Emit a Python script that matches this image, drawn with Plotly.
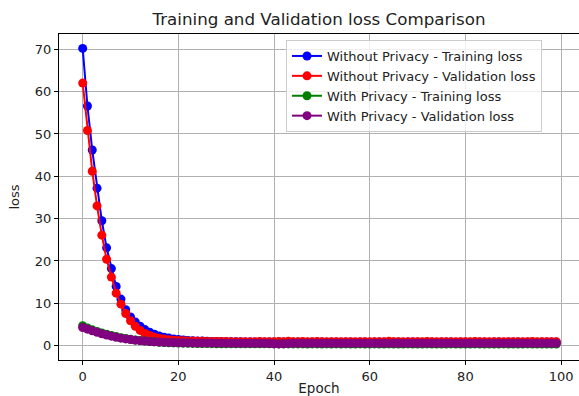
import plotly.graph_objects as go

epochs = list(range(100))

# Without privacy - training loss
wo_train = [
    70.2, 56.6, 46.2, 37.2, 29.5, 23.1, 18.2, 14.0, 11.0, 8.5,
    6.8, 5.6, 4.6, 3.8, 3.2, 2.7, 2.3, 2.0, 1.8, 1.6,
    1.45, 1.35, 1.25, 1.18, 1.12, 1.08, 1.04, 1.01, 0.98, 0.96,
    0.94, 0.92, 0.91, 0.90, 0.89, 0.88, 0.87, 0.87, 0.86, 0.86,
    0.85, 0.86, 0.85, 0.84, 0.86, 0.85, 0.85, 0.84, 0.85, 0.86,
    0.85, 0.84, 0.85, 0.85, 0.84, 0.86, 0.85, 0.84, 0.85, 0.85,
    0.84, 0.85, 0.86, 0.85, 0.84, 0.85, 0.85, 0.84, 0.85, 0.86,
    0.85, 0.84, 0.85, 0.85, 0.84, 0.85, 0.86, 0.85, 0.84, 0.85,
    0.85, 0.84, 0.85, 0.86, 0.85, 0.84, 0.85, 0.85, 0.84, 0.85,
    0.86, 0.85, 0.84, 0.85, 0.85, 0.84, 0.85, 0.86, 0.85, 0.85,
]

# Without privacy - validation loss
wo_val = [
    62.0, 50.8, 41.2, 33.0, 26.1, 20.4, 16.2, 12.4, 9.8, 7.6,
    5.9, 4.6, 3.6, 2.9, 2.4, 2.0, 1.75, 1.55, 1.4, 1.3,
    1.22, 1.16, 1.12, 1.08, 1.05, 1.03, 1.01, 0.99, 0.98, 0.97,
    0.96, 0.95, 0.95, 0.94, 0.94, 0.93, 0.93, 1.00, 0.92, 0.95,
    0.92, 0.98, 0.92, 1.02, 0.93, 0.92, 0.96, 0.92, 0.93, 1.00,
    0.92, 0.93, 0.92, 0.94, 0.92, 0.93, 0.92, 0.95, 0.92, 0.93,
    0.92, 0.94, 0.92, 0.93, 1.02, 0.92, 0.93, 0.92, 0.94, 0.92,
    0.93, 0.92, 1.00, 0.93, 0.92, 0.94, 0.92, 0.93, 0.92, 0.95,
    0.92, 0.93, 1.01, 0.92, 0.94, 0.92, 0.93, 0.92, 0.94, 0.92,
    0.93, 0.92, 0.94, 0.92, 1.00, 0.93, 0.92, 0.94, 0.92, 0.93,
]

# With privacy - training loss
w_train = [
    4.7, 4.2, 3.75, 3.35, 3.0, 2.7, 2.4, 2.15, 1.9, 1.7,
    1.5, 1.35, 1.2, 1.08, 0.98, 0.9, 0.82, 0.76, 0.7, 0.66,
    0.62, 0.59, 0.56, 0.54, 0.52, 0.50, 0.49, 0.48, 0.47, 0.46,
    0.46, 0.45, 0.45, 0.44, 0.44, 0.44, 0.43, 0.43, 0.43, 0.43,
    0.42, 0.42, 0.42, 0.42, 0.42, 0.42, 0.42, 0.41, 0.42, 0.42,
    0.41, 0.42, 0.41, 0.42, 0.41, 0.42, 0.41, 0.41, 0.42, 0.41,
    0.41, 0.42, 0.41, 0.41, 0.42, 0.41, 0.41, 0.41, 0.42, 0.41,
    0.41, 0.41, 0.42, 0.41, 0.41, 0.41, 0.41, 0.42, 0.41, 0.41,
    0.41, 0.41, 0.42, 0.41, 0.41, 0.41, 0.41, 0.41, 0.42, 0.41,
    0.41, 0.41, 0.41, 0.42, 0.41, 0.41, 0.41, 0.41, 0.41, 0.41,
]

# With privacy - validation loss
w_val = [
    4.3, 3.9, 3.5, 3.15, 2.82, 2.52, 2.25, 2.0, 1.78, 1.6,
    1.44, 1.3, 1.18, 1.08, 1.0, 0.93, 0.87, 0.82, 0.78, 0.74,
    0.71, 0.69, 0.67, 0.65, 0.64, 0.63, 0.62, 0.61, 0.60, 0.60,
    0.59, 0.59, 0.58, 0.58, 0.58, 0.57, 0.57, 0.57, 0.56, 0.52,
    0.45, 0.42, 0.44, 0.50, 0.56, 0.56, 0.56, 0.55, 0.56, 0.55,
    0.56, 0.55, 0.55, 0.56, 0.55, 0.55, 0.56, 0.55, 0.55, 0.55,
    0.56, 0.55, 0.55, 0.55, 0.56, 0.55, 0.55, 0.55, 0.55, 0.56,
    0.55, 0.55, 0.55, 0.55, 0.56, 0.55, 0.55, 0.55, 0.55, 0.55,
    0.56, 0.55, 0.55, 0.55, 0.55, 0.55, 0.56, 0.55, 0.55, 0.55,
    0.55, 0.55, 0.56, 0.55, 0.55, 0.55, 0.55, 0.55, 0.55, 0.56,
]

series = [
    ("Without Privacy - Training loss", wo_train, "#0000ff"),
    ("Without Privacy - Validation loss", wo_val, "#ff0000"),
    ("With Privacy - Training loss", w_train, "#008000"),
    ("With Privacy - Validation loss", w_val, "#800080"),
]

x_ticks = [0, 20, 40, 60, 80, 100]
y_ticks = [0, 10, 20, 30, 40, 50, 60, 70]

FONT = "DejaVu Sans"
INK = "#222222"

fig = go.Figure()
for name, values, color in series:
    fig.add_trace(go.Scatter(
        x=epochs, y=values, name=name, mode="lines+markers",
        line=dict(color=color, width=2),
        marker=dict(color=color, size=9),
    ))

axis_common = dict(
    showline=True, linecolor="black", linewidth=1, mirror=True,
    showgrid=True, gridcolor="#b0b0b0", gridwidth=1,
    ticks="outside", ticklen=4, tickcolor="black",
    tickfont=dict(family=FONT, size=13, color=INK),
    zeroline=False, automargin=False,
)

fig.update_layout(
    width=579, height=396,
    margin=dict(l=59, r=0, t=34, b=36),
    paper_bgcolor="white", plot_bgcolor="white",
    font=dict(family=FONT, color=INK),
    title=dict(text="Training and Validation loss Comparison",
               x=(319 / 579), xanchor="center", y=1 - 19 / 396, yanchor="middle",
               font=dict(family=FONT, size=16.7, color=INK)),
    xaxis=dict(axis_common, range=[-4.95, 103.75], tickvals=x_ticks,
               title=dict(text="Epoch", font=dict(family=FONT, size=13.5, color=INK), standoff=7)),
    yaxis=dict(axis_common, range=[-3.38, 73.6], tickvals=y_ticks,
               title=dict(text="loss", font=dict(family=FONT, size=13, color=INK), standoff=12)),
    legend=dict(x=(286 - 59) / 520, y=(360 - 40) / 326, xanchor="left", yanchor="top",
                bgcolor="rgba(255,255,255,0.8)", bordercolor="#cccccc", borderwidth=1,
                font=dict(family=FONT, size=13, color=INK),
                tracegroupgap=0, itemwidth=30),
    showlegend=True,
)

fig.write_html("out.html")
